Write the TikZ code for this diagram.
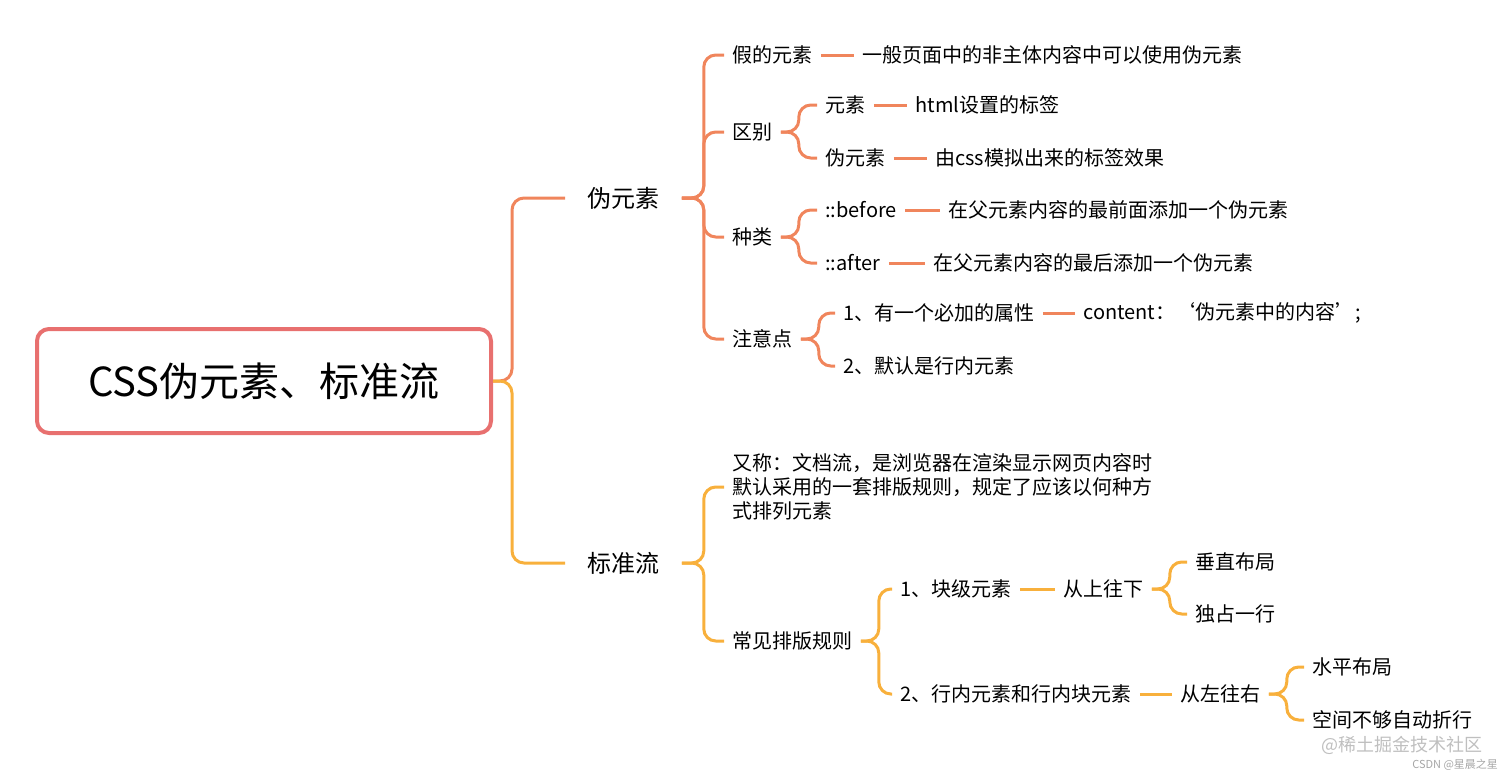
\documentclass[tikz,border=0pt]{standalone}
\usepackage{fontspec}
\setmainfont{Noto Sans CJK SC}
\definecolor{rootred}{HTML}{E8706F}
\definecolor{orangeline}{HTML}{F0855C}
\definecolor{yellowline}{HTML}{F8B03C}
\begin{document}
\begin{tikzpicture}[x=0.5pt,y=-0.5pt,
    topic/.style={anchor=west, inner xsep=4pt, inner ysep=1pt, font=\fontsize{10}{12}\selectfont},
    maintopic/.style={topic, inner xsep=11pt, font=\fontsize{12}{14}\selectfont},
    rootnode/.style={draw=rootred, line width=2pt, rounded corners=6pt, minimum width=227pt, minimum height=52pt, font=\fontsize{20}{24}\selectfont},
    oline/.style={draw=orangeline, line width=1.5pt, rounded corners=6pt},
    yline/.style={draw=yellowline, line width=1.5pt, rounded corners=6pt},
  ]
  \useasboundingbox (0,0) rectangle (1512,777);
  % Nodes
  \node[rootnode]  (root)     at (264,381) {CSS伪元素、标准流};

  \node[maintopic] (wei)      at (565,198) {伪元素};
  \node[topic]     (fake)     at (724,55)  {假的元素};
  \node[topic]     (fake_d)   at (854,55)  {一般页面中的非主体内容中可以使用伪元素};
  \node[topic]     (diff)     at (724,132) {区别};
  \node[topic]     (elem)     at (817,105) {元素};
  \node[topic]     (elem_d)   at (907,105) {html设置的标签};
  \node[topic]     (pelem)    at (817,158) {伪元素};
  \node[topic]     (pelem_d)  at (927,158) {由css模拟出来的标签效果};
  \node[topic]     (kind)     at (724,237) {种类};
  \node[topic]     (before)   at (817,210) {::before};
  \node[topic]     (before_d) at (940,210) {在父元素内容的最前面添加一个伪元素};
  \node[topic]     (after)    at (817,263) {::after};
  \node[topic]     (after_d)  at (925,263) {在父元素内容的最后添加一个伪元素};
  \node[topic]     (note)     at (724,339) {注意点};
  \node[topic]     (note_1)   at (835,313) {1、有一个必加的属性};
  \node[topic]     (content)  at (1075,313) {content：‘伪元素中的内容’;};
  \node[topic]     (note_2)   at (835,366) {2、默认是行内元素};

  \node[maintopic] (flow)     at (565,563) {标准流};
  \node[topic, align=left, text width=210pt] (alias) at (724,487)
    {又称：文档流，是浏览器在渲染显示网页内容时\\默认采用的一套排版规则，规定了应该以何种方\\式排列元素};
  \node[topic]     (rules)    at (724,641) {常见排版规则};
  \node[topic]     (block)    at (892,589) {1、块级元素};
  \node[topic]     (down)     at (1055,589) {从上往下};
  \node[topic]     (vert)     at (1187,562) {垂直布局};
  \node[topic]     (line)     at (1187,614) {独占一行};
  \node[topic]     (inline)   at (892,694) {2、行内元素和行内块元素};
  \node[topic]     (right)    at (1172,694) {从左往右};
  \node[topic]     (horiz)    at (1304,667) {水平布局};
  \node[topic]     (wrap)     at (1304,720) {空间不够自动折行};

  \node[anchor=east, text=black!25, font=\fontsize{9}{10}\selectfont] (mark1) at (1490,745) {@稀土掘金技术社区};
  \node[anchor=east, text=black!35, font=\fontsize{5.5}{6}\selectfont] (mark2) at (1505,765) {CSDN @星晨之星};

  %Lines
  \draw[oline] (root.east) -- ++(19,0) |- (wei.west);
  \draw[yline] (root.east) -- ++(19,0) |- (flow.west);

  \foreach \c in {fake,diff,kind,note}
    \draw[oline] (wei.east) -- ++(22,0) |- (\c.west);
  \draw[oline] (fake.east) -- (fake_d.west);
  \foreach \c in {elem,pelem}
    \draw[oline] (diff.east) -- ++(18,0) |- (\c.west);
  \draw[oline] (elem.east) -- (elem_d.west);
  \draw[oline] (pelem.east) -- (pelem_d.west);
  \foreach \c in {before,after}
    \draw[oline] (kind.east) -- ++(18,0) |- (\c.west);
  \draw[oline] (before.east) -- (before_d.west);
  \draw[oline] (after.east) -- (after_d.west);
  \foreach \c in {note_1,note_2}
    \draw[oline] (note.east) -- ++(18,0) |- (\c.west);
  \draw[oline] (note_1.east) -- (content.west);

  \foreach \c in {alias,rules}
    \draw[yline] (flow.east) -- ++(22,0) |- (\c.west);
  \foreach \c in {block,inline}
    \draw[yline] (rules.east) -- ++(18,0) |- (\c.west);
  \draw[yline] (block.east) -- (down.west);
  \foreach \c in {vert,line}
    \draw[yline] (down.east) -- ++(18,0) |- (\c.west);
  \draw[yline] (inline.east) -- (right.west);
  \foreach \c in {horiz,wrap}
    \draw[yline] (right.east) -- ++(18,0) |- (\c.west);
\end{tikzpicture}
\end{document}
